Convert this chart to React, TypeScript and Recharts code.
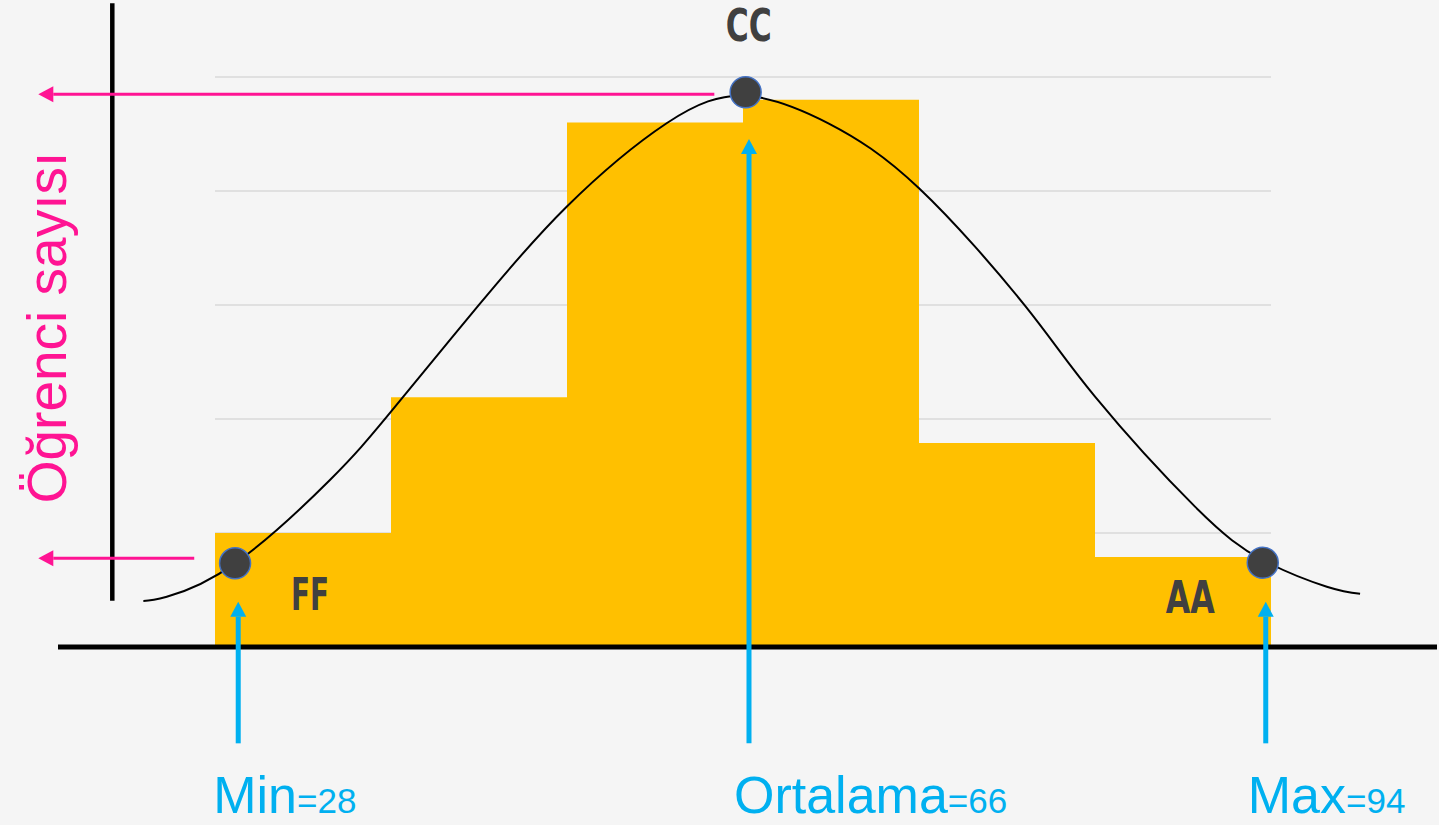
import React from 'react';
import { ComposedChart, Bar, Line, Scatter, XAxis, YAxis, ReferenceLine } from 'recharts';

// ---------- data ----------
const binLabels = ['1', '2', '3', '4', '5', '6'];
const binCounts = [1.0, 2.19, 4.6, 4.8, 1.79, 0.79];

// bell curve (x in bin units, y in gridline units)
const curveX = [-0.407, -0.274, 0.114, 0.653, 1.0, 1.496, 1.998, 2.566, 3.017, 3.485, 4.0, 4.602, 5.0, 5.568, 5.953, 6.317, 6.506];
const curveY = [0.404, 0.441, 0.734, 1.465, 2.064, 2.994, 3.862, 4.594, 4.835, 4.594, 4.024, 2.994, 2.196, 1.231, 0.763, 0.529, 0.468];

const gradeLabels = ['FF', 'CC', 'AA'];
const gradeX = [0.114, 3.015, 5.953];
const gradeY = [0.734, 4.866, 0.739];

const gridValues = [1, 2, 3, 4, 5];

const markerNames = ['Min', 'Ortalama', 'Max'];
const markerValues = [28, 66, 94];
const markerX = [0.132, 3.034, 5.97];
const markerTipY = [0.397, 4.456, 0.397];

const levelY = [4.848, 0.778];
const levelFromX = [2.837, -0.118];

const yAxisTitle = 'Öğrenci sayısı';

// ---------- derived tables ----------
const binData = binLabels.map((bin, i) => ({ bin, count: binCounts[i] }));
const curveData = curveX.map((x, i) => ({ x, y: curveY[i] }));
const gradeData = gradeLabels.map((label, i) => ({ x: gradeX[i], y: gradeY[i], label }));

// ---------- layout / style config ----------
const W = 1439;
const H = 825;
const BG = '#f5f5f5';
const YELLOW = '#FFC000';
const PINK = '#FF1493';
const BLUE = '#00B0F0';
const DARK = '#404040';
const X_DOMAIN: [number, number] = [-0.892, 6.943];
const Y_DOMAIN: [number, number] = [0, 5.6754];
const GRID_FROM = 0;
const GRID_TO = 6;
const ARROW_BOTTOM_Y = -0.845;
const LEVEL_TIP_X = -1.004;
const VAXIS = { x: -0.5835, top: 5.646, bottom: 0.406 };
const markerLabelDx = [-25, -15, -18];
const gradeStyle: Record<string, { dx: number; dy: number; anchor: 'start' | 'middle' | 'end'; len: number }> = {
  FF: { dx: 56, dy: 47, anchor: 'start', len: 38 },
  CC: { dx: 3, dy: -51, anchor: 'middle', len: 46 },
  AA: { dx: -48, dy: 50, anchor: 'end', len: 49 },
};

const arrowShape = (color: string, width: number, headLen: number, headHalf: number, extra?: (p: any) => React.ReactNode) =>
  (p: any) => {
    const { x1, y1, x2, y2 } = p;
    const dx = x2 - x1;
    const dy = y2 - y1;
    const len = Math.hypot(dx, dy) || 1;
    const ux = dx / len;
    const uy = dy / len;
    const bx = x2 - ux * headLen;
    const by = y2 - uy * headLen;
    const px = -uy;
    const py = ux;
    return (
      <g>
        <line x1={x1} y1={y1} x2={bx} y2={by} stroke={color} strokeWidth={width} />
        <polygon
          points={`${x2},${y2} ${bx + px * headHalf},${by + py * headHalf} ${bx - px * headHalf},${by - py * headHalf}`}
          fill={color}
        />
        {extra ? extra(p) : null}
      </g>
    );
  };

const vAxisShape = (p: any) => {
  const { x1, y1, x2, y2 } = p;
  const tx = x1 - 46;
  const ty = (y1 + y2) / 2 + 25.5;
  return (
    <g>
      <line x1={x1} y1={y1} x2={x2} y2={y2} stroke="#000" strokeWidth={4.5} />
      <text
        x={tx}
        y={ty}
        transform={`rotate(-90 ${tx} ${ty})`}
        textAnchor="middle"
        fontFamily="'Liberation Sans', Arial, sans-serif"
        fontSize={55}
        fill={PINK}
      >
        {yAxisTitle}
      </text>
    </g>
  );
};

const GradeDot = (p: any) => {
  const { cx, cy } = p;
  const label = p.payload?.label ?? p.label;
  const s = gradeStyle[label] || { dx: 0, dy: 0, anchor: 'middle', len: 40 };
  return (
    <g>
      <circle cx={cx} cy={cy} r={15.5} fill={DARK} stroke="#4472C4" strokeWidth={1.5} />
      <text
        x={cx + s.dx}
        y={cy + s.dy}
        textAnchor={s.anchor}
        fontFamily="'DejaVu Sans Condensed', 'DejaVu Sans', sans-serif"
        fontWeight="bold"
        fontSize={45}
        textLength={s.len}
        lengthAdjust="spacingAndGlyphs"
        fill={DARK}
      >
        {label}
      </text>
    </g>
  );
};

export default function App() {
  return (
    <div style={{ position: 'absolute', left: 0, top: 0, width: W, height: H, background: BG }}>
      <ComposedChart
        width={W}
        height={H}
        data={binData}
        margin={{ top: 0, right: 2, bottom: 178, left: 58 }}
        barCategoryGap={0}
        barGap={0}
      >
        <YAxis yAxisId={0} hide type="number" domain={Y_DOMAIN} allowDataOverflow />
        <XAxis xAxisId="bins" dataKey="bin" type="category" hide padding={{ left: 157, right: 166 }} />
        <XAxis xAxisId="num" dataKey="x" type="number" domain={X_DOMAIN} allowDataOverflow hide />

        {gridValues.map((v) => (
          <ReferenceLine
            key={`g${v}`}
            xAxisId="num"
            segment={[{ x: GRID_FROM, y: v }, { x: GRID_TO, y: v }]}
            stroke="#d9d9d9"
            strokeWidth={1.5}
            ifOverflow="visible"
            zIndex={-10}
          />
        ))}

        <Bar xAxisId="bins" dataKey="count" fill={YELLOW} isAnimationActive={false} />

        <ReferenceLine
          xAxisId="num"
          y={0}
          stroke="#000"
          strokeWidth={5}
          ifOverflow="visible"
          zIndex={1000}
        />

        <ReferenceLine
          xAxisId="num"
          segment={[{ x: VAXIS.x, y: VAXIS.top }, { x: VAXIS.x, y: VAXIS.bottom }]}
          ifOverflow="visible"
          shape={vAxisShape}
          zIndex={1000}
        />

        <Line
          xAxisId="num"
          data={curveData}
          dataKey="y"
          type="natural"
          stroke="#000"
          strokeWidth={2}
          dot={false}
          activeDot={false}
          isAnimationActive={false}
        />

        {levelY.map((v, i) => (
          <ReferenceLine
            key={`l${i}`}
            xAxisId="num"
            segment={[{ x: levelFromX[i], y: v }, { x: LEVEL_TIP_X, y: v }]}
            ifOverflow="visible"
            shape={arrowShape(PINK, 3, 15, 8)}
            zIndex={1000}
          />
        ))}

        {markerX.map((x, i) => (
          <ReferenceLine
            key={`m${i}`}
            xAxisId="num"
            segment={[{ x, y: ARROW_BOTTOM_Y }, { x, y: markerTipY[i] }]}
            ifOverflow="visible"
            zIndex={1000}
            shape={arrowShape(BLUE, 5, 15, 8, (p: any) => (
              <text
                x={p.x1 + markerLabelDx[i]}
                y={p.y1 + 70}
                fontFamily="'Liberation Sans', Arial, sans-serif"
                fontSize={52}
                fill={BLUE}
              >
                {markerNames[i]}
                <tspan fontSize={35}>={markerValues[i]}</tspan>
              </text>
            ))}
          />
        ))}

        <Scatter
          xAxisId="num"
          data={gradeData}
          dataKey="y"
          shape={GradeDot}
          isAnimationActive={false}
        />
      </ComposedChart>
    </div>
  );
}
